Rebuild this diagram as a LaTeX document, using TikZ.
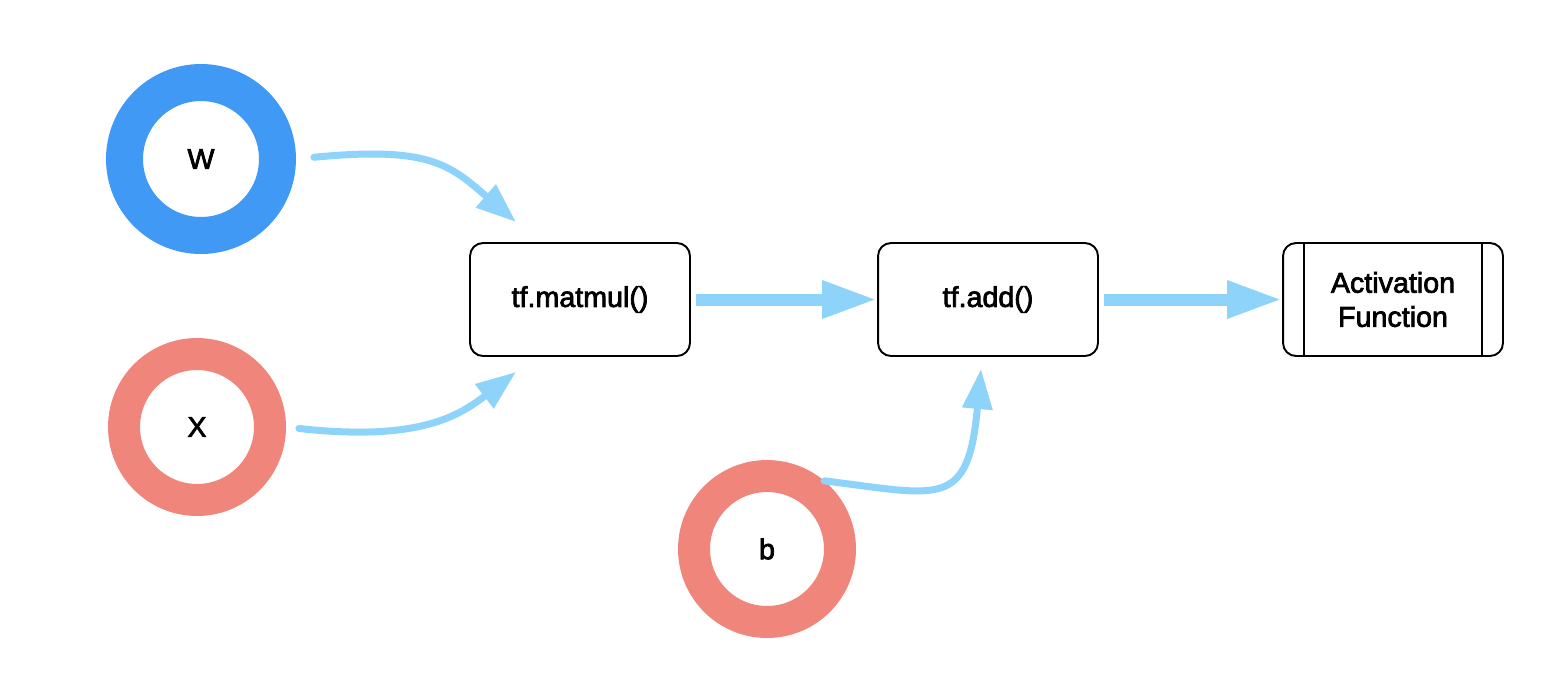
\documentclass[tikz,border=0pt]{standalone}
\usepackage{fontspec}
\setmainfont{Liberation Sans}
\newfontfamily\labelfont[FakeBold=2.5]{Liberation Sans}
\usetikzlibrary{arrows.meta}

\definecolor{wblue}{RGB}{64,153,245}
\definecolor{salmon}{RGB}{240,133,124}
\definecolor{flow}{RGB}{141,211,250}

\tikzset{
    var/.style={circle, fill=white, text=black, font=\labelfont\fontsize{16.3}{19.5}\selectfont},
    bigvar/.style={var, minimum size=3.06cm, line width=0.74cm},
    smallvar/.style={var, minimum size=2.92cm, line width=0.64cm},
    op/.style={draw, rounded corners=0.26cm, line width=1.1pt, minimum width=4.4cm,
               minimum height=2.26cm, align=center, font=\labelfont\fontsize{16.3}{19.4}\selectfont},
    thinflow/.style={flow, line width=0.14cm, line cap=round,
                     -{Triangle[length=0.8cm, width=0.58cm]}},
    thickflow/.style={flow, line width=0.24cm,
                      -{Triangle[length=1.1cm, width=0.7cm]}},
}

\begin{document}
\begin{tikzpicture}[x=0.02cm, y=-0.02cm]
    \useasboundingbox (0,0) rectangle (1550,674);

    \node[bigvar, draw=wblue] (W) at (201,159) {W};
    \node[smallvar, draw=salmon] (X) at (197,427) {X};
    \node[smallvar, draw=salmon] (b) at (767,549) {b};

    \node[op] (matmul) at (580,299.5) {tf.matmul()};
    \node[op] (add) at (988,299.5) {tf.add()};
    \node[op] (act) at (1393,299.5) {Activation\\Function};
    \draw[line width=1.1pt] ([xshift=0.44cm]act.north west) -- ([xshift=0.44cm]act.south west);
    \draw[line width=1.1pt] ([xshift=-0.44cm]act.north east) -- ([xshift=-0.44cm]act.south east);

    \coordinate (wtip) at (516,222);
    \coordinate (xtip) at (516,372);
    \coordinate (btip) at (981,369);

    \draw[thinflow, shorten <=0.36cm] (W.east) .. controls (430,146) and (450,165) .. (wtip);
    \draw[thinflow, shorten <=0.26cm] (X.east) .. controls (420,442) and (460,415) .. (xtip);
    \draw[thinflow] (b.50) .. controls (940,495) and (968,510) .. (btip);

    \draw[thickflow, shorten <=0.1cm] (matmul.east) -- (add.west);
    \draw[thickflow, shorten <=0.1cm] (add.east) -- (act.west);
\end{tikzpicture}
\end{document}
